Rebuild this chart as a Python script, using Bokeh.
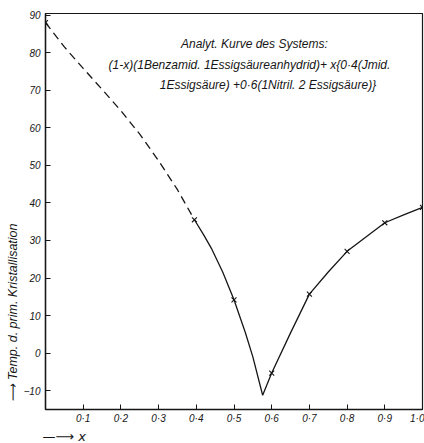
from bokeh.plotting import figure
from bokeh.models import Label, FixedTicker, Range1d, Title
from bokeh.embed import file_html
from bokeh.resources import INLINE

# ---- data ----
x_ticks = [0.1, 0.2, 0.3, 0.4, 0.5, 0.6, 0.7, 0.8, 0.9, 1.0]
x_tick_labels = ["0·1", "0·2", "0·3", "0·4", "0·5", "0·6", "0·7", "0·8", "0·9", "1·0"]
y_ticks = [-10, 0, 10, 20, 30, 40, 50, 60, 70, 80, 90]

# measured points (crosses)
cross_x = [0.0, 0.395, 0.5, 0.6, 0.7, 0.8, 0.9, 1.0]
cross_y = [88.0, 35.5, 14.2, -5.3, 15.7, 27.1, 34.7, 38.8]

# dashed (extrapolated) branch
dash_x = [0.0, 0.05, 0.1, 0.15, 0.2, 0.25, 0.3, 0.35, 0.395]
dash_y = [88.0, 81.5, 75.8, 70.2, 64.5, 58.3, 51.2, 43.5, 35.5]

# solid branch left of the eutectic
left_x = [0.395, 0.42, 0.44, 0.47, 0.5, 0.53, 0.55, 0.576]
left_y = [35.5, 31.4, 27.9, 21.6, 14.2, 5.5, -1.0, -11.2]

# solid branch right of the eutectic
right_x = [0.576, 0.6, 0.65, 0.7, 0.75, 0.8, 0.85, 0.9, 0.95, 1.0]
right_y = [-11.2, -5.3, 5.4, 15.7, 21.6, 27.1, 30.9, 34.7, 36.8, 38.8]

title_lines = [
    "Analyt. Kurve des Systems:",
    "(1-x)(1Benzamid. 1Essigsäureanhydrid)+ x{0·4(Jmid.",
    "1Essigsäure) +0·6(1Nitril. 2 Essigsäure)}",
]
y_label = "⟶ Temp. d. prim. Kristallisation"
x_label = "—⟶ x"

INK = "#161616"
FONT = "Liberation Sans"

p = figure(width=424, height=443, output_backend="svg", toolbar_location=None,
           x_range=Range1d(0, 1), y_range=Range1d(-15, 90.4),
           min_border_left=45, min_border_right=2, min_border_top=13,
           min_border_bottom=34)
p.background_fill_color = "white"
p.border_fill_color = "white"
p.outline_line_color = INK
p.outline_line_width = 1.2
p.xgrid.visible = False
p.ygrid.visible = False

for ax in (p.xaxis, p.yaxis):
    ax.axis_line_color = INK
    ax.axis_line_width = 1.4
    ax.major_tick_line_color = INK
    ax.major_tick_in = 5
    ax.major_tick_out = 0
    ax.minor_tick_line_color = None
    ax.major_label_text_font = FONT
    ax.major_label_text_font_style = "italic"
    ax.major_label_text_font_size = "10px"
    ax.major_label_text_color = INK

p.xaxis.ticker = FixedTicker(ticks=x_ticks)
p.xaxis.major_label_overrides = {t: s for t, s in zip(x_ticks, x_tick_labels)}
p.xaxis.major_label_standoff = 3
p.yaxis.ticker = FixedTicker(ticks=y_ticks)
p.yaxis.major_label_standoff = 5

p.line(dash_x, dash_y, line_color=INK, line_width=1.3, line_dash="8 5")
p.line(left_x, left_y, line_color=INK, line_width=1.3)
p.line(right_x, right_y, line_color=INK, line_width=1.3)
p.scatter(cross_x, cross_y, marker="x", size=7, line_color=INK, line_width=1.1)

# title block inside the plot
for txt, (tx, ty) in zip(title_lines, [(0.554, 82.2), (0.541, 76.8), (0.590, 71.5)]):
    p.add_layout(Label(x=tx, y=ty, text=txt, text_align="center",
                       text_baseline="middle", text_font=FONT,
                       text_font_style="italic", text_font_size="12px",
                       text_color=INK))

# rotated y label in the left panel
p.add_layout(Title(text=y_label, align="left", offset=8, standoff=2,
                   text_font=FONT, text_font_style="italic",
                   text_font_size="12.5px", text_color=INK), "left")

# x label with arrow in the bottom panel
p.add_layout(Title(text=x_label, align="left", offset=-3, standoff=0,
                   text_font="DejaVu Sans", text_font_style="italic",
                   text_font_size="13px", text_color=INK), "below")

open("out.html", "w").write(file_html(p, INLINE))
